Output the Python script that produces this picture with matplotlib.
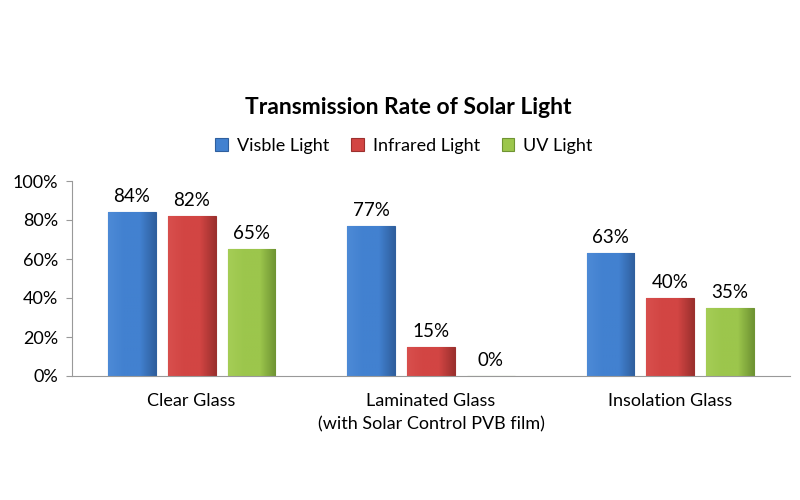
import numpy as np
import matplotlib
matplotlib.use("Agg")
import matplotlib.pyplot as plt
from matplotlib.colors import LinearSegmentedColormap

plt.rcParams['font.family'] = ['Lato', 'DejaVu Sans']

categories = ["Clear Glass", "Laminated Glass\n(with Solar Control PVB film)", "Insolation Glass"]
series = ["Visble Light", "Infrared Light", "UV Light"]
visible = [84, 77, 63]
infrared = [82, 15, 40]
uv = [65, 0, 35]

colors = ["#4281d0", "#d24543", "#9cc64c"]
dark = ["#2f5f9e", "#9c302e", "#6f9433"]
light = ["#4d8ad6", "#d84f4d", "#a5cd56"]

fig = plt.figure(figsize=(8, 5), dpi=100)
ax = fig.add_axes([0.09, 0.248, 0.8975, 0.39])

x = np.arange(len(categories))
w = 0.2
step = 0.25
for i, (vals, name) in enumerate(zip([visible, infrared, uv], series)):
    pos = x + (i - 1) * step
    bars = ax.bar(pos, vals, width=w, color=colors[i], edgecolor=dark[i],
                  linewidth=0.8, label=name, zorder=2)
    cmap = LinearSegmentedColormap.from_list("g%d" % i, [light[i], colors[i], colors[i], dark[i]])
    for b, v in zip(bars, vals):
        if v > 0:
            im = ax.imshow(np.linspace(0, 1, 64).reshape(1, -1), cmap=cmap, aspect='auto',
                           extent=[b.get_x(), b.get_x() + b.get_width(), 0, v], zorder=2.5)
            im.set_clip_path(b)
        ax.annotate(f"{v}%", (b.get_x() + b.get_width() / 2, v), xytext=(0, 5),
                    textcoords="offset points", ha="center", va="bottom", fontsize=13.5)

ax.set_xlim(-0.5, 2.5)
ax.set_ylim(0, 100)
ax.set_yticks(range(0, 101, 20))
ax.set_yticklabels([f"{t}%" for t in range(0, 101, 20)], fontsize=13)
ax.set_xticks(x)
ax.set_xticklabels(categories, fontsize=13, linespacing=1.6)
ax.tick_params(axis='x', length=0, pad=12)
ax.tick_params(axis='y', length=4, color="#999999", pad=6)
for s in ["top", "right"]:
    ax.spines[s].set_visible(False)
ax.spines["left"].set_color("#999999")
ax.spines["bottom"].set_color("#999999")

fig.text(0.51, 0.785, "Transmission Rate of Solar Light", ha="center", va="center",
         fontsize=16.5, fontweight="bold")
fig.legend(loc="center", bbox_to_anchor=(0.505, 0.708), ncol=3, frameon=False,
           fontsize=13, handlelength=0.7, handleheight=0.7, handletextpad=0.5,
           columnspacing=1.2)

fig.savefig("out.png", dpi=100)
